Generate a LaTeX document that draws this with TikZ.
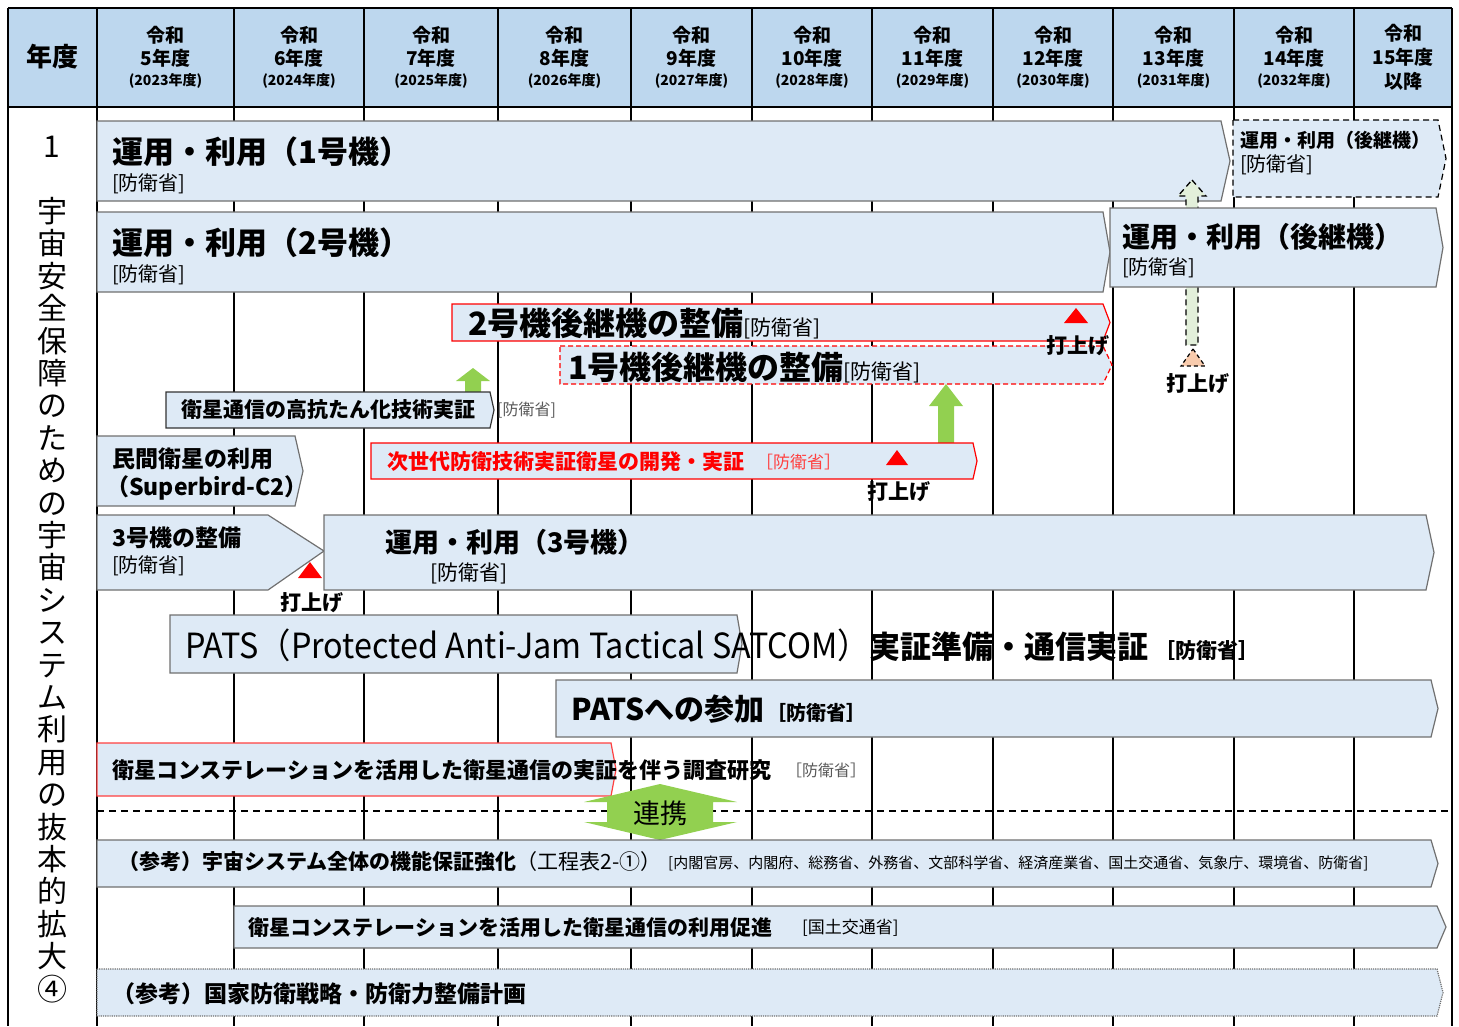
\documentclass[tikz,border=0pt]{standalone}
\usepackage{fontspec}
\setmainfont{Noto Sans CJK JP}
\definecolor{hdr}{HTML}{BDD7EE}
\definecolor{barfill}{HTML}{DEEAF6}
\definecolor{bargray}{HTML}{707070}
\definecolor{grn}{HTML}{92D050}
\definecolor{lgrn}{HTML}{E2EFDA}
\definecolor{orng}{HTML}{F8CBAD}
\definecolor{lred}{HTML}{FF4040}
\definecolor{txgray}{HTML}{595959}
\newcommand\fsz[1]{\fontsize{#1}{#1}\selectfont}
\newcommand\chv[6][]{\draw[#1] (#2,#3) -- (#4,#3) -- (#6,{(#3+#5)/2}) -- (#4,#5) -- (#2,#5) -- cycle;}
\begin{document}
\begin{tikzpicture}[x=1pt,y=-1pt,
  bar/.style={fill=barfill, draw=bargray, line width=1.2pt},
  redbar/.style={fill=barfill, draw=red, line width=1.2pt},
  longdash/.style={dash pattern=on 6pt off 4pt},
  tx/.style={anchor=west, inner sep=0pt},
  hd/.style={inner sep=0pt, font=\bfseries\fsz{19}},
  hdsm/.style={inner sep=0pt, font=\bfseries\fsz{14}},
  grid/.style={line width=1.6pt, draw=black},
  frame/.style={line width=2.6pt, draw=black},
  launch/.style={inner sep=0pt, font=\bfseries\fsz{21}},
  redtri/.style={fill=red, draw=none},
  garrow/.style={fill=grn, draw=none}]
\useasboundingbox (0,0) rectangle (1459,1026);
% header
\fill[hdr] (8,8) rectangle (1452,107);
\foreach \gx in {97,234,364,498,631,752,872,993,1113,1234,1354}
  \draw[grid] (\gx,8) -- (\gx,1026);
\draw[line width=2pt] (8,107) -- (1452,107);
\draw[frame] (8,8) -- (1452,8);
\draw[frame] (8,8) -- (8,1026);
\draw[frame] (1452,8) -- (1452,1026);
\node[inner sep=0pt, font=\bfseries\fsz{26}] (nendo) at (52,57) {年度};
\foreach \cx/\n/\yr [count=\i] in {165.5/5/2023,299/6/2024,431/7/2025,564.5/8/2026,691.5/9/2027,812/10/2028,932.5/11/2029,1053/12/2030,1173.5/13/2031,1294/14/2032}{
  \node[hd] (ha\i) at (\cx,35) {令和};
  \node[hd] (hb\i) at (\cx,58) {\n 年度};
  \node[hdsm] (hc\i) at (\cx,81) {(\yr 年度)};
}
\node[hd] (ha11) at (1403,33) {令和};
\node[hd] (hb11) at (1403,57) {15年度};
\node[hd] (hc11) at (1403,81) {以降};
% left column
\node[inner sep=0pt, font=\fsz{30}] (num) at (52,147) {1};
\node[inner sep=0pt, font=\fontsize{30}{32.4}\selectfont, align=center, anchor=north] (vt) at (52,197)
  {宇\\宙\\安\\全\\保\\障\\の\\た\\め\\の\\宇\\宙\\シ\\ス\\テ\\ム\\利\\用\\の\\抜\\本\\的\\拡\\大\\④};
% row 1
\chv[bar]{97}{121}{1221}{201}{1230}
\chv[bar,draw=black,longdash,line width=1.2pt]{1233}{120}{1438}{197}{1446}
\node[tx, font=\bfseries\fsz{31}] (b1t) at (112,152) {運用・利用（1号機）};
\node[tx, font=\fsz{20}] (b1s) at (112,184) {[防衛省]};
\node[tx, font=\bfseries\fsz{19}] (b1bt) at (1240,140) {運用・利用（後継機）};
\node[tx, font=\fsz{20}] (b1bs) at (1240,165) {[防衛省]};
% green dashed arrow
\draw[longdash, fill=lgrn, line width=1.3pt] (1192,180) -- (1206,196) -- (1198,196) -- (1198,345) -- (1186,345) -- (1186,196) -- (1178,196) -- cycle;
\draw[dash pattern=on 4pt off 3pt, fill=orng, line width=1.2pt] (1193,349) -- (1205,366) -- (1181,366) -- cycle;
\node[launch] (l4) at (1198,384) {打上げ};
% row 2
\chv[bar]{97}{212}{1103}{292}{1110}
\chv[bar]{1110}{208}{1436}{287}{1443}
\node[tx, font=\bfseries\fsz{31}] (b2t) at (112,243) {運用・利用（2号機）};
\node[tx, font=\fsz{20}] (b2s) at (112,275) {[防衛省]};
\node[tx, font=\bfseries\fsz{28}] (b2bt) at (1122,237) {運用・利用（後継機）};
\node[tx, font=\fsz{20}] (b2bs) at (1122,268) {[防衛省]};
% successor builds
\chv[redbar]{452}{304}{1103}{341}{1110}
\chv[redbar,dash pattern=on 5pt off 3pt]{560}{346}{1103}{384}{1112}
\node[tx, font=\bfseries\fsz{32}] (s2) at (468,324) {2号機後継機の整備{\mdseries\fsz{21}[防衛省]}};
\node[tx, font=\bfseries\fsz{32}] (s1) at (568,368) {1号機後継機の整備{\mdseries\fsz{21}[防衛省]}};
\fill[redtri] (1076,308) -- (1088,323) -- (1064,323) -- cycle;
\node[launch] (l1) at (1078,346) {打上げ};
% green arrows
\fill[garrow] (473,368) -- (490,381) -- (481,381) -- (481,392) -- (465,392) -- (465,381) -- (456,381) -- cycle;
\fill[garrow] (946,384) -- (963,406) -- (954,406) -- (954,443) -- (938,443) -- (938,406) -- (929,406) -- cycle;
% high-resilience
\chv[bar,draw=black!80]{166}{392}{490}{428}{494}
\node[tx, font=\bfseries\fsz{21}] (hr) at (181,410) {衛星通信の高抗たん化技術実証};
\node[tx, font=\fsz{16}, text=txgray] (hrs) at (497,410) {[防衛省]};
% civil sat
\chv[bar]{97}{436}{295}{506}{303}
\node[tx, font=\bfseries\fsz{23}] (cv1) at (112,459) {民間衛星の利用};
\node[tx, font=\bfseries\fsz{23}] (cv2) at (106,488) {（Superbird-C2）};
% next-gen
\chv[redbar]{371}{443}{973}{479}{977}
\node[tx, font=\bfseries\fsz{21}, text=red] (ng) at (387,462) {次世代防衛技術実証衛星の開発・実証};
\node[tx, font=\fsz{17}, text=lred] (ngs) at (756,462) {［防衛省］};
\fill[redtri] (897,450) -- (908,465) -- (886,465) -- cycle;
\node[launch] (l2) at (899,492) {打上げ};
% unit 3
\draw[bar] (97,515) -- (268,515) -- (324,551) -- (268,590) -- (97,590) -- cycle;
\chv[bar]{324}{515}{1426}{590}{1434}
\node[tx, font=\bfseries\fsz{23}] (u3a) at (112,538) {3号機の整備};
\node[tx, font=\fsz{20}] (u3b) at (112,566) {[防衛省]};
\node[tx, font=\bfseries\fsz{27}] (u3c) at (385,542) {運用・利用（3号機）};
\node[tx, font=\fsz{21}] (u3d) at (430,573) {[防衛省]};
\fill[redtri] (310,562) -- (322,578) -- (298,578) -- cycle;
\node[launch] (l3) at (312,603) {打上げ};
% PATS
\chv[bar]{170}{615}{737}{673}{742}
\node[tx] (pats) at (185,645) {\scalebox{0.98}[1.05]{\fsz{33}PATS（Protected Anti-Jam Tactical SATCOM）}{\bfseries\fsz{31}実証準備・通信実証}\hspace{6pt}{\bfseries\fsz{21}［防衛省］}};
\chv[bar]{556}{680}{1431}{737}{1438}
\node[tx] (pj) at (571,709) {{\bfseries\fsz{30}PATSへの参加}\hspace{2pt}{\bfseries\fsz{20}［防衛省］}};
% constellation research
\chv[redbar,draw=lred]{97}{743}{611}{796}{616}
\node[tx, font=\bfseries\fsz{22}] (cr) at (112,770) {衛星コンステレーションを活用した衛星通信の実証を伴う調査研究};
\node[tx, font=\fsz{16}, text=txgray] (crs) at (786,770) {［防衛省］};
% divider and cooperation
\draw[line width=1.5pt, dash pattern=on 7pt off 5pt] (97,811) -- (1452,811);
\fill[grn] (660,784) -- (737,802) -- (713,802) -- (713,822) -- (737,822) -- (660,840) -- (584,822) -- (607,822) -- (607,802) -- (584,802) -- cycle;
\node[inner sep=0pt, font=\fsz{27}] (coop) at (660,813) {連携};
% reference rows
\chv[bar]{97}{840}{1431}{887}{1438}
\node[tx, font=\fsz{21}] (ref1) at (118,862) {{\bfseries （参考）宇宙システム全体の機能保証強化}（工程表2-①）};
\node[tx, font=\fsz{15}] (ref1s) at (668,863) {[内閣官房、内閣府、総務省、外務省、文部科学省、経済産業省、国土交通省、気象庁、環境省、防衛省]};
\chv[bar]{234}{906}{1437}{948}{1446}
\node[tx, font=\bfseries\fsz{21}] (up) at (248,928) {衛星コンステレーションを活用した衛星通信の利用促進};
\node[tx, font=\fsz{17}] (ups) at (802,928) {[国土交通省]};
\chv[bar,densely dotted]{97}{969}{1437}{1016}{1443}
\node[tx, font=\bfseries\fsz{23}] (ref2) at (112,994) {（参考）国家防衛戦略・防衛力整備計画};
\end{tikzpicture}
\end{document}
